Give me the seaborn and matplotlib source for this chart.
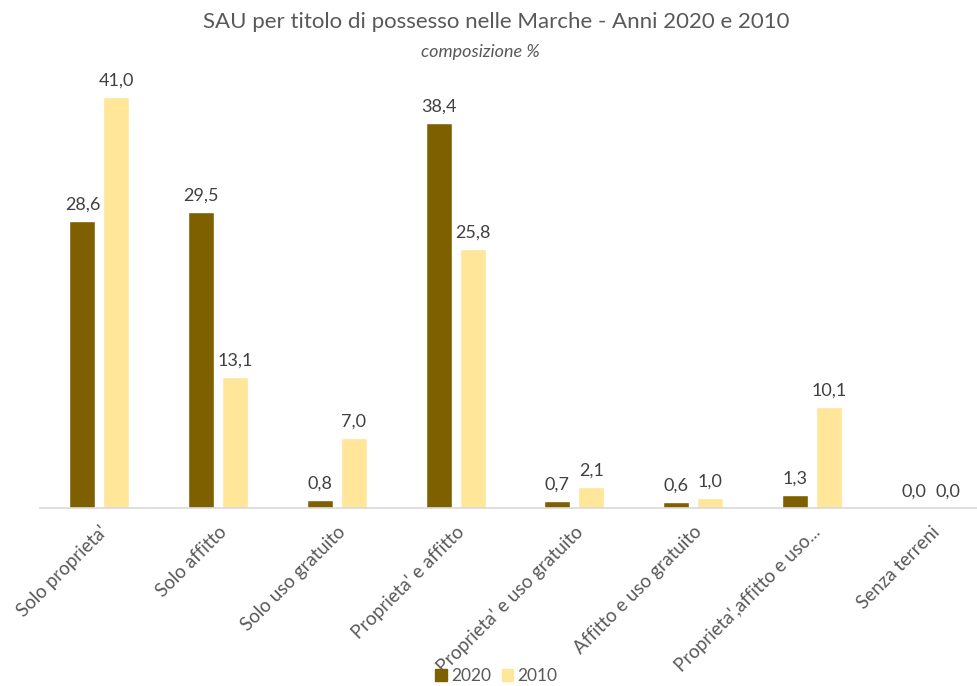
import pandas as pd
import matplotlib.pyplot as plt
import seaborn as sns

# Data
categories = ["Solo proprieta'", "Solo affitto", "Solo uso gratuito", "Proprieta' e affitto",
              "Proprieta' e uso gratuito", "Affitto e uso gratuito",
              "Proprieta',affitto e uso...", "Senza terreni"]
values_2020 = [28.6, 29.5, 0.8, 38.4, 0.7, 0.6, 1.3, 0.0]
values_2010 = [41.0, 13.1, 7.0, 25.8, 2.1, 1.0, 10.1, 0.0]
years = ["2020", "2010"]
colors = ["#7F6000", "#FFE699"]

df = pd.DataFrame({
    "Titolo": categories * 2,
    "Anno": [years[0]] * len(categories) + [years[1]] * len(categories),
    "Valore": values_2020 + values_2010,
})

sns.set_theme(style="white")
plt.rcParams["font.family"] = ["Lato", "DejaVu Sans"]
text_color = "#595959"

fig = plt.figure(figsize=(9.77, 6.86), dpi=100)
ax = fig.add_axes([40 / 977, 1 - 508 / 686, 950 / 977, 448 / 686])

sns.barplot(data=df, x="Titolo", y="Valore", hue="Anno", palette=colors,
            width=0.57, gap=0.23, saturation=1, ax=ax, legend=False)

for cont in ax.containers:
    labels = [f"{b.get_height():.1f}".replace(".", ",") for b in cont]
    ax.bar_label(cont, labels=labels, padding=6, fontsize=13, color="#404040")

ax.set_ylim(0, 44.7)
ax.set_xlim(-0.5, len(categories) - 0.5)
ax.set_xlabel("")
ax.set_ylabel("")
ax.set_yticks([])
sns.despine(ax=ax, left=True, right=True, top=True)
ax.spines["bottom"].set_color("#D9D9D9")
ax.spines["bottom"].set_linewidth(1.2)
ax.tick_params(axis="x", length=0, pad=11)
plt.setp(ax.get_xticklabels(), rotation=45, ha="right", rotation_mode="anchor",
         fontsize=13.5, color=text_color)

fig.text(0.508, 1 - 22 / 686, "SAU per titolo di possesso nelle Marche - Anni 2020 e 2010",
         ha="center", va="center", fontsize=16, color=text_color)
fig.text(0.492, 1 - 52 / 686, "composizione %", ha="center", va="center",
         fontsize=13, style="italic", color=text_color)

handles = [plt.Rectangle((0, 0), 1, 1, color=c) for c in colors]
fig.legend(handles, years, loc="center", bbox_to_anchor=(0.508, 1 - 676 / 686), ncol=2,
           frameon=False, fontsize=12.5, handlelength=0.65, handleheight=0.7,
           handletextpad=0.25, columnspacing=0.6, labelcolor=text_color)

fig.savefig("out.png", dpi=100)
